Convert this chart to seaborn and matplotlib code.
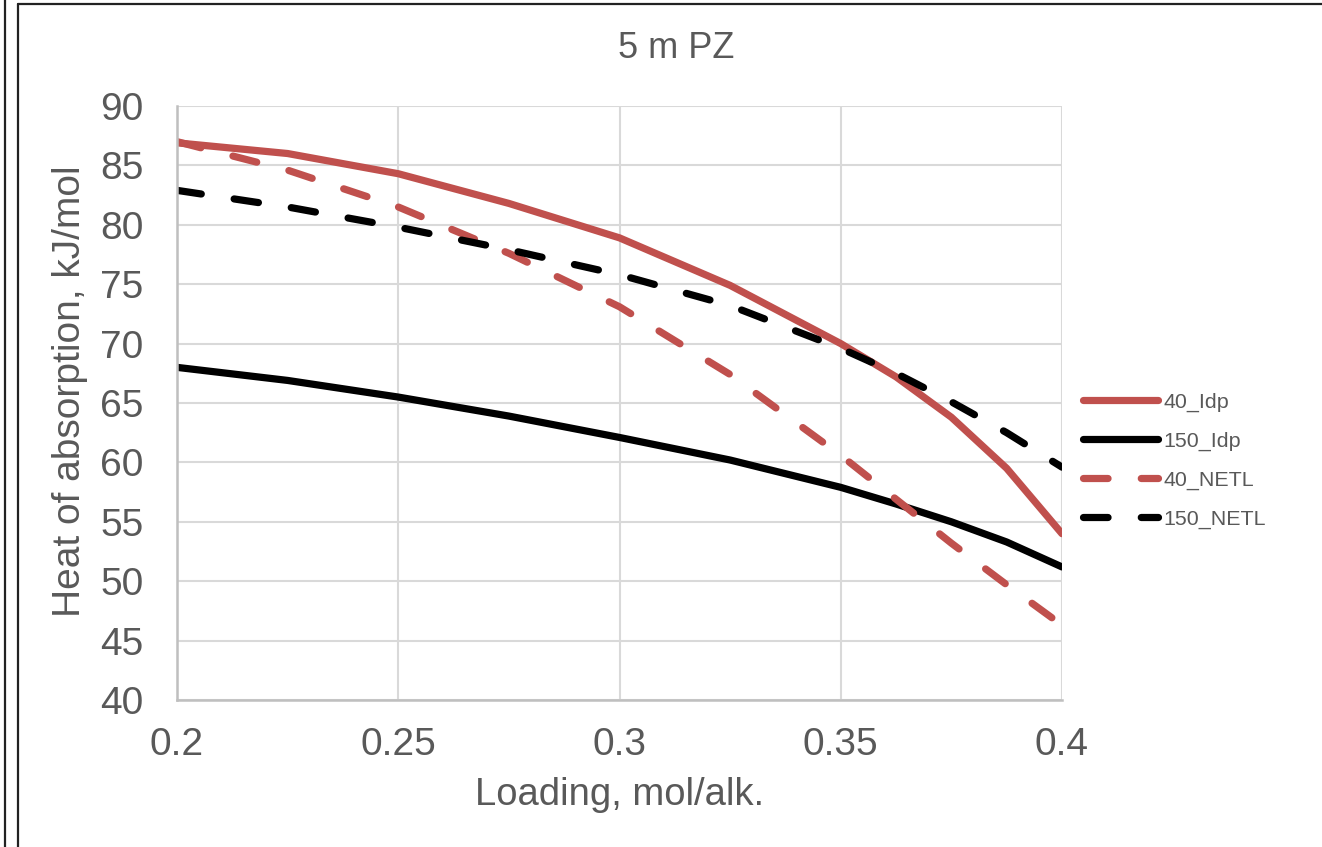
import matplotlib
matplotlib.use("Agg")
import matplotlib.pyplot as plt
import seaborn as sns
import pandas as pd
from matplotlib.lines import Line2D

loading = [0.2, 0.225, 0.25, 0.275, 0.3, 0.325, 0.35, 0.3625, 0.375, 0.3875, 0.4]
idp_40 = [86.9, 86.0, 84.3, 81.8, 78.9, 74.9, 70.0, 67.2, 63.8, 59.5, 54.0]
idp_150 = [68.0, 66.9, 65.5, 63.9, 62.1, 60.2, 57.9, 56.5, 55.0, 53.3, 51.2]
netl_40 = [87.0, 84.6, 81.5, 77.6, 73.1, 67.4, 60.6, 56.9, 53.2, 49.7, 46.3]
netl_150 = [82.9, 81.5, 79.8, 77.9, 75.8, 73.2, 69.6, 67.5, 65.1, 62.5, 59.6]
series_names = ["40_Idp", "150_Idp", "40_NETL", "150_NETL"]
x_ticks = [0.2, 0.25, 0.3, 0.35, 0.4]
x_tick_labels = ["0.2", "0.25", "0.3", "0.35", "0.4"]
y_ticks = [40, 45, 50, 55, 60, 65, 70, 75, 80, 85, 90]

sns.set_style("white")
plt.rcParams["font.family"] = ["Liberation Sans", "DejaVu Sans"]

RED = "#C0504D"
BLACK = "#000000"
TXT = "#595959"

fig = plt.figure(figsize=(13.22, 8.47), dpi=100)
ax = fig.add_axes([177 / 1322, 1 - 700 / 847, (1062 - 177) / 1322, (700 - 106) / 847])

values = [idp_40, idp_150, netl_40, netl_150]
colors = [RED, BLACK, RED, BLACK]
dashed = [False, False, True, True]
for name, vals, col, d in zip(series_names, values, colors, dashed):
    df = pd.DataFrame({"x": loading, "y": vals})
    kw = dict(linestyle=(0, (3.4, 4.6))) if d else dict(linestyle="-")
    sns.lineplot(data=df, x="x", y="y", ax=ax, color=col, linewidth=5.2,
                 label=name, solid_capstyle="round", dash_capstyle="round",
                 solid_joinstyle="round", **kw)

ax.set_xlim(0.2, 0.4)
ax.set_ylim(40, 90)
ax.set_xticks(x_ticks)
ax.set_xticklabels(x_tick_labels)
ax.set_yticks(y_ticks)
ax.grid(True, color="#D9D9D9", linewidth=1.5)
ax.set_axisbelow(True)
for s in ["top", "right"]:
    ax.spines[s].set_visible(False)
for s in ["left", "bottom"]:
    ax.spines[s].set_color("#BFBFBF")
    ax.spines[s].set_linewidth(1.8)
ax.tick_params(axis="both", length=0, labelsize=28, labelcolor=TXT)
ax.tick_params(axis="x", pad=19.5)
ax.tick_params(axis="y", pad=24)

ax.set_xlabel("Loading, mol/alk.", fontsize=27.5, color=TXT)
ax.set_ylabel("Heat of absorption, kJ/mol", fontsize=28, color=TXT)
ax.xaxis.set_label_coords(0.5, -0.13)
ax.yaxis.set_label_coords(-0.1, 0.52)

fig.text(676 / 1322, 1 - 49 / 847, "5 m PZ", fontsize=26, color=TXT,
         ha="center", va="center")

leg = ax.legend(loc="center left", bbox_to_anchor=(1083 / 1322, 1 - 460.5 / 847),
                bbox_transform=fig.transFigure, frameon=False, fontsize=15.4,
                handlelength=3.5, handletextpad=0.25, labelspacing=0.92,
                borderpad=0, borderaxespad=0)
for t in leg.get_texts():
    t.set_color(TXT)

# outer frame lines
fig.add_artist(Line2D([5 / 1322, 5 / 1322], [0, 1], transform=fig.transFigure,
                      color="#222222", linewidth=1.6))
fig.add_artist(Line2D([18 / 1322, 18 / 1322], [0, 1 - 4 / 847], transform=fig.transFigure,
                      color="#222222", linewidth=1.6))
fig.add_artist(Line2D([18 / 1322, 1], [1 - 4 / 847, 1 - 4 / 847], transform=fig.transFigure,
                      color="#222222", linewidth=1.6))

fig.savefig("out.png", dpi=100)
